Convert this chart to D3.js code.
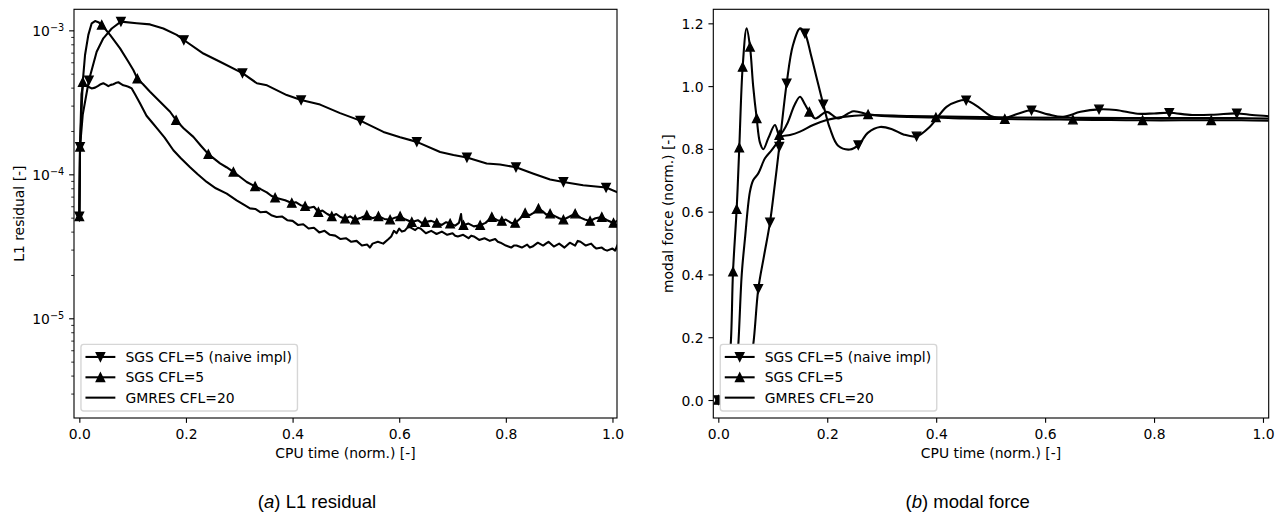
<!DOCTYPE html>
<html><head><meta charset="utf-8">
<script src="https://cdn.jsdelivr.net/npm/d3@7"></script>
<style>
html,body{margin:0;padding:0;background:#fff;}
svg{display:block;}
</style></head><body>
<script>
// ---------------- data ----------------
const xTicks = [0, 0.2, 0.4, 0.6, 0.8, 1.0];
const resMajorTicks = [1e-5, 1e-4, 1e-3];
const forceTicks = [0, 0.2, 0.4, 0.6, 0.8, 1.0, 1.2];
const seriesNames = ["SGS CFL=5 (naive impl)", "SGS CFL=5", "GMRES CFL=20"];
const xLabel = "CPU time (norm.) [-]";
const yLabels = ["L1 residual [-]", "modal force (norm.) [-]"];
const captionLetters = ["a", "b"];
const captionTexts = ["L1 residual", "modal force"];

// panel (a): L1 residual
const resNaiveX = [0, 0.0013, 0.0064, 0.018, 0.0325, 0.045, 0.0608, 0.078, 0.1076, 0.1326, 0.1576, 0.1827, 0.196, 0.2327, 0.2639, 0.306, 0.333, 0.352, 0.389, 0.416, 0.4516, 0.4891, 0.527, 0.5704, 0.6017, 0.633, 0.6767, 0.7017, 0.727, 0.764, 0.789, 0.819, 0.852, 0.883, 0.908, 0.945, 0.988, 1.009];
const resNaiveY = [5.1e-5, 1.55e-4, 2.6e-4, 4.5e-4, 7.1e-4, 8.8e-4, 1.03e-3, 1.15e-3, 1.12e-3, 1.10e-3, 1.03e-3, 9.3e-4, 8.57e-4, 6.9e-4, 6.05e-4, 5.05e-4, 4.29e-4, 4.15e-4, 3.55e-4, 3.28e-4, 3.05e-4, 2.66e-4, 2.36e-4, 1.97e-4, 1.81e-4, 1.68e-4, 1.43e-4, 1.36e-4, 1.31e-4, 1.19e-4, 1.17e-4, 1.12e-4, 1.01e-4, 9.2e-5, 8.85e-5, 8.4e-5, 8.1e-5, 7.5e-5];
const resNaiveMarkX = [0, 0.0013, 0.018, 0.078, 0.196, 0.306, 0.416, 0.527, 0.633, 0.727, 0.819, 0.908, 0.988];

const resSgsX = [0, 0.0013, 0.0064, 0.0107, 0.0169, 0.0232, 0.0295, 0.0357, 0.042, 0.0576, 0.0764, 0.092, 0.1013, 0.1088, 0.12, 0.1326, 0.1514, 0.1702, 0.1814, 0.195, 0.2139, 0.228, 0.242, 0.2639, 0.276, 0.289, 0.30, 0.314, 0.3296, 0.34, 0.3516, 0.36, 0.3672, 0.377, 0.386, 0.3985, 0.406, 0.415, 0.4235, 0.432, 0.44, 0.4484, 0.456, 0.465, 0.4735, 0.482, 0.49, 0.4985, 0.508, 0.5173, 0.528, 0.5392, 0.55, 0.561, 0.572, 0.5829, 0.592, 0.6017, 0.612, 0.6236, 0.635, 0.642, 0.6486, 0.66, 0.6705, 0.68, 0.688, 0.6955, 0.705, 0.712, 0.716, 0.718, 0.7205, 0.73, 0.74, 0.7518, 0.762, 0.7737, 0.784, 0.7925, 0.80, 0.81, 0.8174, 0.826, 0.8362, 0.845, 0.852, 0.8612, 0.87, 0.876, 0.883, 0.893, 0.90, 0.908, 0.918, 0.930, 0.94, 0.948, 0.958, 0.968, 0.980, 0.99, 1.002, 1.009];
const resSgsY = [5.1e-5, 1.55e-4, 4.37e-4, 6.74e-4, 9.3e-4, 1.12e-3, 1.16e-3, 1.14e-3, 1.09e-3, 9.3e-4, 7.5e-4, 6.05e-4, 5.3e-4, 4.62e-4, 4.2e-4, 3.75e-4, 3.19e-4, 2.72e-4, 2.38e-4, 2.1e-4, 1.82e-4, 1.58e-4, 1.38e-4, 1.19e-4, 1.12e-4, 1.04e-4, 9.7e-5, 8.85e-5, 8.25e-5, 7.9e-5, 7.5e-5, 7.1e-5, 6.89e-5, 6.75e-5, 6.6e-5, 6.32e-5, 6.4e-5, 6.1e-5, 6.0e-5, 5.85e-5, 5.95e-5, 5.47e-5, 5.6e-5, 5.3e-5, 5.11e-5, 5.3e-5, 5.05e-5, 4.92e-5, 5.1e-5, 4.84e-5, 5.0e-5, 5.19e-5, 4.95e-5, 5.11e-5, 4.9e-5, 4.84e-5, 5.0e-5, 5.11e-5, 4.85e-5, 4.66e-5, 4.8e-5, 4.6e-5, 4.66e-5, 4.75e-5, 4.59e-5, 4.45e-5, 4.65e-5, 4.55e-5, 4.4e-5, 4.6e-5, 5.3e-5, 4.5e-5, 4.43e-5, 4.55e-5, 4.35e-5, 4.43e-5, 4.6e-5, 5.05e-5, 4.8e-5, 4.74e-5, 4.85e-5, 4.6e-5, 4.59e-5, 4.9e-5, 5.38e-5, 5.2e-5, 5.4e-5, 5.78e-5, 5.5e-5, 5.25e-5, 5.33e-5, 5.1e-5, 4.95e-5, 4.84e-5, 5.05e-5, 5.33e-5, 5.0e-5, 4.85e-5, 4.74e-5, 4.95e-5, 5.05e-5, 4.8e-5, 4.59e-5, 4.75e-5];
const resSgsMarkX = [0, 0.0013, 0.0064, 0.042, 0.1088, 0.1814, 0.242, 0.289, 0.3296, 0.3672, 0.3985, 0.4235, 0.4484, 0.4735, 0.4985, 0.5173, 0.5392, 0.561, 0.5829, 0.6017, 0.6236, 0.6486, 0.6705, 0.6955, 0.7205, 0.7518, 0.7737, 0.7925, 0.8174, 0.8362, 0.8612, 0.883, 0.908, 0.930, 0.958, 0.980, 1.002];

const resGmresX = [0, 0.0015, 0.004, 0.0075, 0.012, 0.0169, 0.023, 0.0295, 0.0345, 0.0389, 0.045, 0.05, 0.0544, 0.059, 0.0638, 0.068, 0.0732, 0.078, 0.0826, 0.088, 0.092, 0.0983, 0.1045, 0.114, 0.126, 0.137, 0.145, 0.16, 0.1764, 0.19, 0.2077, 0.222, 0.2389, 0.256, 0.2765, 0.295, 0.31,
  0.32, 0.33, 0.34, 0.35, 0.36, 0.37, 0.38, 0.39, 0.40, 0.41, 0.42, 0.43, 0.44, 0.45, 0.46, 0.47, 0.48, 0.49, 0.50, 0.51, 0.52, 0.53, 0.54, 0.545, 0.55, 0.56, 0.57, 0.58, 0.585,
  0.59, 0.595, 0.60, 0.605, 0.61, 0.615, 0.62, 0.63, 0.635, 0.64, 0.65, 0.66, 0.665, 0.67, 0.68, 0.69, 0.70, 0.705, 0.71, 0.72, 0.73, 0.735, 0.74, 0.75, 0.76, 0.77, 0.78, 0.785, 0.79, 0.80, 0.81, 0.815, 0.82, 0.83, 0.84, 0.845, 0.85, 0.86, 0.87, 0.875, 0.88, 0.89, 0.90, 0.905, 0.91, 0.92, 0.93, 0.935, 0.94, 0.95, 0.96, 0.965, 0.97, 0.98, 0.985, 0.99, 1.00, 1.005, 1.009];
const resGmresY = [5.1e-5, 1.7e-4, 3.6e-4, 4.3e-4, 4.15e-4, 4.06e-4, 3.95e-4, 4.0e-4, 4.1e-4, 4.2e-4, 4.29e-4, 4.2e-4, 4.1e-4, 4.18e-4, 4.22e-4, 4.3e-4, 4.36e-4, 4.25e-4, 4.15e-4, 4.1e-4, 4.06e-4, 3.95e-4, 3.6e-4, 3.1e-4, 2.55e-4, 2.28e-4, 2.1e-4, 1.8e-4, 1.47e-4, 1.3e-4, 1.12e-4, 1.0e-4, 8.85e-5, 8.0e-5, 7.34e-5, 6.6e-5, 6.1e-5,
  5.8e-5, 5.75e-5, 5.45e-5, 5.5e-5, 5.2e-5, 5.05e-5, 5.1e-5, 4.8e-5, 4.75e-5, 4.45e-5, 4.5e-5, 4.2e-5, 4.25e-5, 3.95e-5, 4.05e-5, 3.8e-5, 3.75e-5, 3.55e-5, 3.6e-5, 3.4e-5, 3.45e-5, 3.2e-5, 3.25e-5, 3.1e-5, 3.3e-5, 3.4e-5, 3.3e-5, 3.55e-5, 3.7e-5,
  4.05e-5, 3.9e-5, 4.2e-5, 4.0e-5, 4.05e-5, 4.25e-5, 4.3e-5, 4.1e-5, 4.25e-5, 4.2e-5, 3.9e-5, 4.05e-5, 3.95e-5, 3.85e-5, 4.0e-5, 3.8e-5, 3.9e-5, 3.75e-5, 3.7e-5, 3.8e-5, 3.6e-5, 3.75e-5, 3.7e-5, 3.5e-5, 3.6e-5, 3.45e-5, 3.55e-5, 3.4e-5, 3.35e-5, 3.2e-5, 3.1e-5, 3.2e-5, 3.2e-5, 3.1e-5, 3.25e-5, 3.1e-5, 3.15e-5, 3.35e-5, 3.2e-5, 3.3e-5, 3.4e-5, 3.15e-5, 3.3e-5, 3.2e-5, 3.1e-5, 3.35e-5, 3.2e-5, 3.45e-5, 3.4e-5, 3.2e-5, 3.3e-5, 3.15e-5, 3.05e-5, 3.1e-5, 3.0e-5, 2.95e-5, 3.05e-5, 2.95e-5, 3.2e-5];

// panel (b): modal force
const forceNaiveX = [0, 0.04, 0.055, 0.064, 0.0734, 0.084, 0.0949, 0.104, 0.112, 0.1255, 0.137, 0.15, 0.159, 0.17, 0.18, 0.1927, 0.205, 0.22, 0.2417, 0.257, 0.275, 0.297, 0.32, 0.34, 0.364, 0.388, 0.419, 0.44, 0.455, 0.48, 0.5, 0.523, 0.55, 0.575, 0.605, 0.633, 0.665, 0.699, 0.73, 0.77, 0.8, 0.828, 0.87, 0.91, 0.952, 0.98, 1.012];
const forceNaiveY = [0, 0.0, 0.09, 0.175, 0.354, 0.46, 0.566, 0.69, 0.807, 1.009, 1.13, 1.184, 1.168, 1.1, 1.03, 0.942, 0.865, 0.81, 0.798, 0.812, 0.852, 0.870, 0.862, 0.846, 0.840, 0.870, 0.934, 0.952, 0.955, 0.93, 0.905, 0.897, 0.912, 0.923, 0.91, 0.902, 0.918, 0.926, 0.924, 0.912, 0.913, 0.915, 0.908, 0.909, 0.913, 0.908, 0.904];
const forceNaiveMarkX = [0, 0.0734, 0.0949, 0.112, 0.1255, 0.159, 0.1927, 0.257, 0.364, 0.455, 0.575, 0.699, 0.828, 0.952];

const forceSgsX = [0, 0.014, 0.0227, 0.027, 0.0337, 0.0385, 0.0447, 0.052, 0.0582, 0.064, 0.0705, 0.0765, 0.0826, 0.092, 0.104, 0.112, 0.125, 0.14, 0.15, 0.158, 0.167, 0.178, 0.199, 0.22, 0.248, 0.275, 0.31, 0.3995, 0.45, 0.526, 0.6, 0.651, 0.72, 0.779, 0.85, 0.905, 0.96, 1.012];
const forceSgsY = [0, 0.02, 0.175, 0.409, 0.608, 0.804, 1.061, 1.184, 1.125, 1.0, 0.897, 0.82, 0.799, 0.835, 0.876, 0.844, 0.875, 0.94, 0.966, 0.945, 0.918, 0.897, 0.918, 0.897, 0.92, 0.91, 0.904, 0.900, 0.897, 0.895, 0.894, 0.893, 0.892, 0.891, 0.891, 0.891, 0.891, 0.89];
const forceSgsMarkX = [0, 0.027, 0.0337, 0.0385, 0.0447, 0.0582, 0.0705, 0.112, 0.167, 0.275, 0.3995, 0.526, 0.651, 0.779, 0.905];

const forceGmresX = [0, 0.03, 0.0367, 0.043, 0.049, 0.058, 0.064, 0.0734, 0.0857, 0.098, 0.107, 0.116, 0.1316, 0.15, 0.174, 0.199, 0.229, 0.272, 0.352, 0.45, 0.55, 0.65, 0.75, 0.85, 0.95, 1.012];
const forceGmresY = [0, 0.02, 0.175, 0.4, 0.515, 0.663, 0.70, 0.722, 0.77, 0.796, 0.817, 0.839, 0.844, 0.855, 0.876, 0.892, 0.902, 0.908, 0.905, 0.902, 0.9, 0.899, 0.898, 0.898, 0.898, 0.897];

// ---------------- drawing ----------------
const FONT = "'DejaVu Sans', sans-serif";
const CAPFONT = "'Liberation Sans', Arial, Helvetica, sans-serif";
const FS = 13.9;
const PT = 100 / 72;
const svg = d3.select("body").append("svg").attr("width", 1286).attr("height", 520)
  .attr("font-family", FONT);

const triUp = `M0,${-3 * PT}L${3 * PT},${3 * PT}L${-3 * PT},${3 * PT}Z`;
const triDown = `M0,${3 * PT}L${3 * PT},${-3 * PT}L${-3 * PT},${-3 * PT}Z`;

function styleAxis(g) {
  g.attr("font-family", FONT).attr("font-size", FS);
  g.select(".domain").remove();
  g.selectAll(".tick line").attr("stroke", "#000").attr("stroke-width", 0.8 * PT);
  g.selectAll(".tick text").attr("fill", "#000");
}

function drawPanel(p) {
  const { x, y, id } = p;
  const [x0, x1] = x.range();
  const [y1, y0] = y.range();
  const g = svg.append("g");

  g.append("clipPath").attr("id", "clip" + id).append("rect")
    .attr("x", x0).attr("y", y0).attr("width", x1 - x0).attr("height", y1 - y0);

  const plot = g.append("g").attr("clip-path", `url(#clip${id})`);
  const line = d3.line().x(d => x(d[0])).y(d => y(d[1])).curve(p.curve);

  p.series.forEach(s => {
    const pts = d3.zip(s.xs, s.ys);
    plot.append("path").datum(pts).attr("d", line)
      .attr("fill", "none").attr("stroke", "#000").attr("stroke-width", 1.5 * PT)
      .attr("stroke-linejoin", "round").attr("stroke-linecap", "square");
    if (s.marks) {
      const set = new Set(s.marks);
      plot.selectAll(null).data(pts.filter(d => set.has(d[0]))).join("path")
        .attr("d", s.shape)
        .attr("transform", d => `translate(${x(d[0])},${y(d[1])})`)
        .attr("fill", "#000").attr("stroke", "#000").attr("stroke-width", PT)
        .attr("stroke-linejoin", "miter");
    }
  });

  // x axis
  const gx = g.append("g").attr("transform", `translate(0,${y1})`)
    .call(d3.axisBottom(x).tickValues(xTicks).tickSize(3.5 * PT).tickPadding(6.3).tickFormat(d3.format(".1f")));
  styleAxis(gx);

  // y axis
  if (p.log) {
    const minors = y.ticks().filter(v => !resMajorTicks.some(m => Math.abs(m - v) / m < 1e-6));
    const gmin = g.append("g").attr("transform", `translate(${x0},0)`)
      .call(d3.axisLeft(y).tickValues(minors).tickSize(2 * PT).tickFormat(() => ""));
    styleAxis(gmin);
    gmin.selectAll(".tick line").attr("stroke-width", 0.6 * PT);
    const gy = g.append("g").attr("transform", `translate(${x0},0)`)
      .call(d3.axisLeft(y).tickValues(resMajorTicks).tickSize(3.5 * PT).tickPadding(3.5 * PT).tickFormat(() => ""));
    styleAxis(gy);
    gy.selectAll(".tick text").attr("dy", "0.34em").each(function (d) {
      const t = d3.select(this);
      const e = Math.round(Math.log10(d));
      t.append("tspan").text("10");
      t.append("tspan").attr("dy", "-0.5em").attr("font-size", FS * 0.7).text("\u2212" + Math.abs(e));
    });
  } else {
    const gy = g.append("g").attr("transform", `translate(${x0},0)`)
      .call(d3.axisLeft(y).tickValues(forceTicks).tickSize(3.5 * PT).tickPadding(3.5 * PT).tickFormat(d3.format(".1f")));
    styleAxis(gy);
    gy.selectAll(".tick text").attr("dy", "0.36em");
  }

  // frame
  g.append("rect").attr("x", x0).attr("y", y0).attr("width", x1 - x0).attr("height", y1 - y0)
    .attr("fill", "none").attr("stroke", "#000").attr("stroke-width", 0.8 * PT);

  // labels
  g.append("text").attr("x", (x0 + x1) / 2).attr("y", 458).attr("text-anchor", "middle")
    .attr("font-size", FS).attr("fill", "#000").text(xLabel);
  g.append("text").attr("transform", `translate(${p.ylabX},${(y0 + y1) / 2}) rotate(-90)`)
    .attr("text-anchor", "middle").attr("font-size", FS).attr("fill", "#000").text(p.ylabel);

  // legend
  const lx = x0 + 0.5 * FS, lh = 66.7, lw = 216.5;
  const ly = y1 - 0.5 * FS - lh;
  const lg = g.append("g");
  lg.append("rect").attr("x", lx).attr("y", ly).attr("width", lw).attr("height", lh)
    .attr("rx", 0.2 * FS).attr("ry", 0.2 * FS)
    .attr("fill", "#fff")
    .attr("stroke", "#d6d6d6").attr("stroke-width", PT);
  p.series.forEach((s, i) => {
    const cy = ly + 12.6 + i * 20.35;
    const hx0 = lx + 0.4 * FS, hx1 = hx0 + 2 * FS;
    lg.append("line").attr("x1", hx0).attr("x2", hx1).attr("y1", cy).attr("y2", cy)
      .attr("stroke", "#000").attr("stroke-width", 1.5 * PT).attr("stroke-linecap", "square");
    if (s.marks) {
      lg.append("path").attr("d", s.shape).attr("transform", `translate(${(hx0 + hx1) / 2},${cy})`)
        .attr("fill", "#000").attr("stroke", "#000").attr("stroke-width", PT);
    }
    lg.append("text").attr("x", hx1 + 0.8 * FS).attr("y", cy).attr("dy", "0.36em")
      .attr("font-size", FS).attr("fill", "#000").text(seriesNames[i]);
  });

  // caption
  const cap = svg.append("text").attr("x", p.capX).attr("y", 508).attr("text-anchor", "middle")
    .attr("font-family", CAPFONT).attr("font-size", 18.5).attr("fill", "#000");
  cap.append("tspan").text("(");
  cap.append("tspan").attr("font-style", "italic").text(p.capLetter);
  cap.append("tspan").text(") " + p.capText);
}

drawPanel({
  id: "a", log: true,
  x: d3.scaleLinear().domain([-0.01, 1.0085]).range([74, 617]),
  y: d3.scaleLog().domain([2.03e-6, 1.4e-3]).range([418, 9.3]),
  curve: d3.curveLinear,
  ylabel: yLabels[0], ylabX: 24,
  capX: 317, capLetter: captionLetters[0], capText: captionTexts[0],
  series: [
    { xs: resNaiveX, ys: resNaiveY, marks: resNaiveMarkX, shape: triDown },
    { xs: resSgsX, ys: resSgsY, marks: resSgsMarkX, shape: triUp },
    { xs: resGmresX, ys: resGmresY }
  ]
});

drawPanel({
  id: "b", log: false,
  x: d3.scaleLinear().domain([-0.0092, 1.0105]).range([713.3, 1268.7]),
  y: d3.scaleLinear().domain([-0.0573, 1.2447]).range([418, 9.3]),
  curve: d3.curveCatmullRom.alpha(0.5),
  ylabel: yLabels[1], ylabX: 673,
  capX: 967.7, capLetter: captionLetters[1], capText: captionTexts[1],
  series: [
    { xs: forceNaiveX, ys: forceNaiveY, marks: forceNaiveMarkX, shape: triDown },
    { xs: forceSgsX, ys: forceSgsY, marks: forceSgsMarkX, shape: triUp },
    { xs: forceGmresX, ys: forceGmresY }
  ]
});
</script>
</body></html>
